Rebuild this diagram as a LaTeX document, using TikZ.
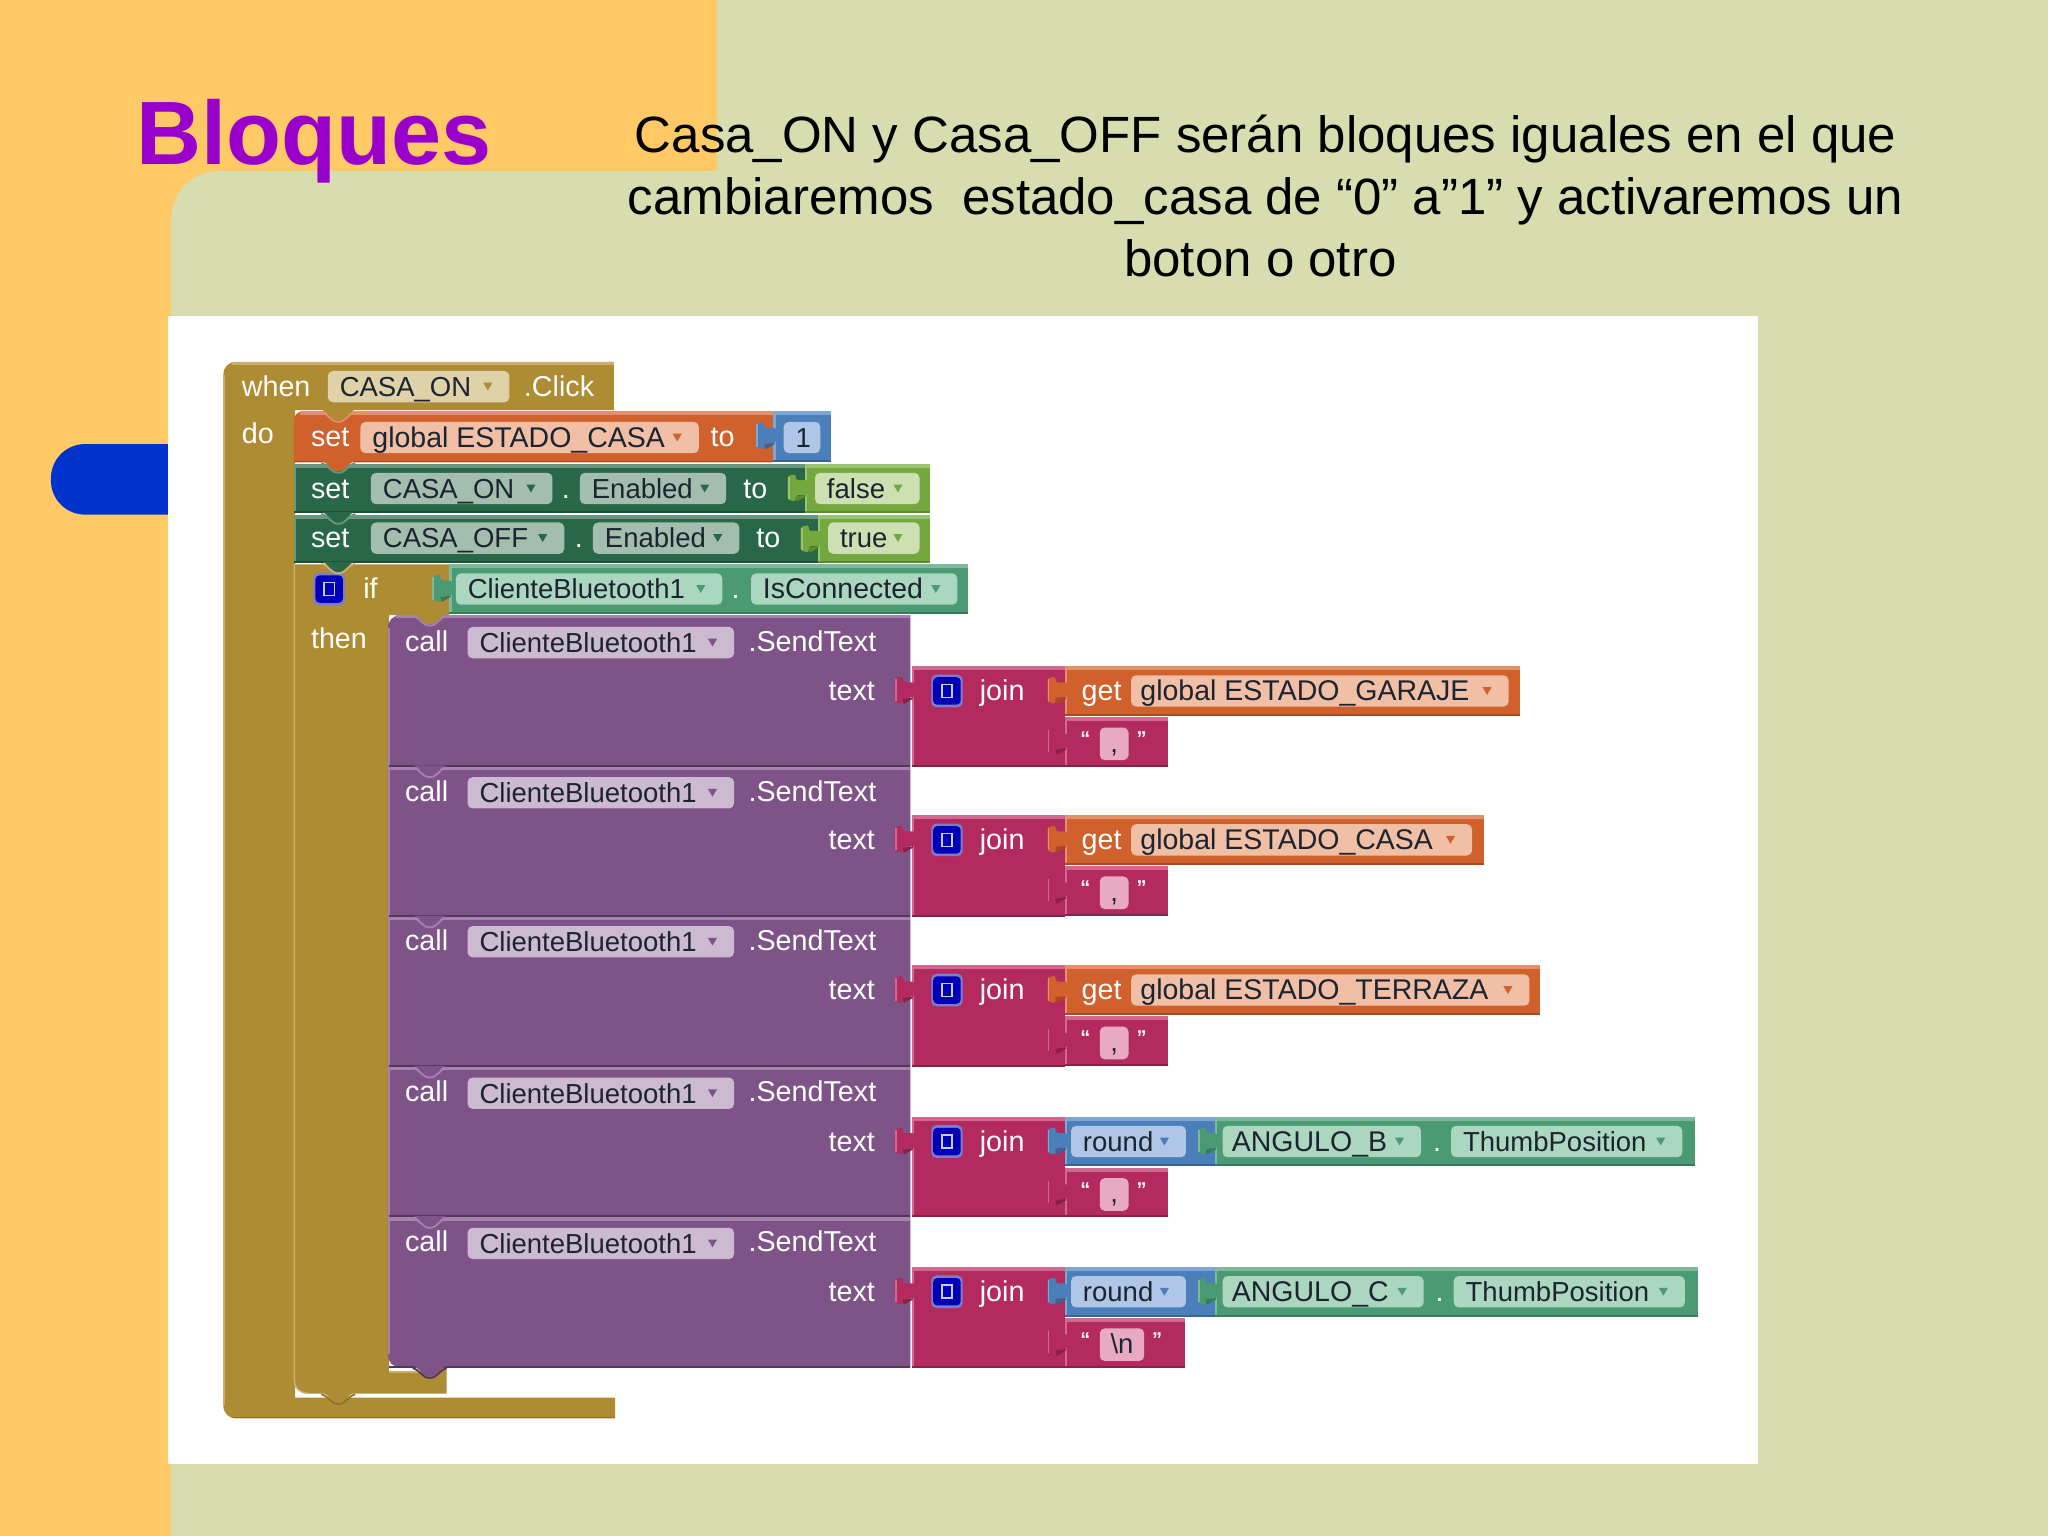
\documentclass[tikz,border=0pt]{standalone}
\usepackage{fontspec}
\setmainfont{Liberation Sans}
\definecolor{bgG}{HTML}{D7DDAE}
\definecolor{bgO}{HTML}{FFC966}
\definecolor{pillblue}{HTML}{0033CC}
\definecolor{titleP}{HTML}{9900CC}
\definecolor{gold}{HTML}{AE8C33}\definecolor{goldL}{HTML}{C9B06E}\definecolor{goldD}{HTML}{8F7229}\definecolor{goldP}{HTML}{E0D2A8}
\definecolor{org}{HTML}{D0602C}\definecolor{orgL}{HTML}{E2916A}\definecolor{orgD}{HTML}{A84A1E}\definecolor{orgP}{HTML}{F0BFA6}
\definecolor{grn}{HTML}{286848}\definecolor{grnL}{HTML}{6A9680}\definecolor{grnD}{HTML}{1C4E35}\definecolor{grnP}{HTML}{A3BDAE}
\definecolor{lime}{HTML}{74A83E}\definecolor{limeL}{HTML}{9CC470}\definecolor{limeD}{HTML}{5C8A2E}\definecolor{limeP}{HTML}{CDE0B2}
\definecolor{teal}{HTML}{4A9A74}\definecolor{tealL}{HTML}{80B89C}\definecolor{tealD}{HTML}{387A5A}\definecolor{tealP}{HTML}{ABD6C0}
\definecolor{pur}{HTML}{7E5387}\definecolor{purL}{HTML}{A683AE}\definecolor{purD}{HTML}{55355E}\definecolor{purP}{HTML}{CCBAD1}
\definecolor{pnk}{HTML}{B32A5E}\definecolor{pnkL}{HTML}{D0688F}\definecolor{pnkD}{HTML}{8A1F47}\definecolor{pnkP}{HTML}{E8AAC2}
\definecolor{blu}{HTML}{4B7FBC}\definecolor{bluL}{HTML}{7FA6D4}\definecolor{bluD}{HTML}{3A6497}\definecolor{bluP}{HTML}{AFC6E6}
\definecolor{ink}{HTML}{1C2430}
\definecolor{mut}{HTML}{0000B8}
\definecolor{mutL}{HTML}{7C7CC8}
\newcount\nodeno
\newcommand{\nextno}{\global\advance\nodeno by 1 }
\newcommand{\wider}{\fontsize{28.5}{30}\selectfont}
\tikzset{
  lbl/.style={inner sep=0pt,anchor=base west,font=\fontsize{27.5}{30}\selectfont},
  whitelbl/.style={lbl,text=white,font=\fontsize{28.7}{30}\selectfont},
  inklbl/.style={lbl,text=ink},
  quotelbl/.style={lbl,text=white,font=\fontsize{20}{22}\selectfont\bfseries},
}
% block: x1 y1 x2 y2 colourname
\newcommand{\blk}[5]{%
  \fill[#5] (#1,#2) rectangle (#3,#4);
  \fill[#5L] (#1,#2) rectangle (#3,#2+3);
  \fill[#5L] (#1,#2) rectangle (#1+2,#4);
  \fill[#5D] (#1,#4-1.5) rectangle (#3,#4);
}
\newcommand{\wt}[3]{\nextno\node[whitelbl] (w\the\nodeno) at (#1,#2+7.5) {#3};}
\newcommand{\wtr}[3]{\nextno\node[whitelbl,anchor=base east] (w\the\nodeno) at (#1,#2+7.5) {#3};}
% pill: x1 x2 yc colourname text arrow-colour
\newcommand{\pill}[6]{%
  \fill[#4P,rounded corners=5pt] (#1,#3-12) rectangle (#2,#3+12);
  \nextno\node[inklbl] (p\the\nodeno) at (#1+9,#3+7.5) {#5};
  \fill[#6] (#2-20,#3-3) -- (#2-13,#3-3) -- (#2-16.5,#3+3) -- cycle;
}
% lower notch tab: xc y fill edge
\newcommand{\notch}[4]{%
  \fill[#3] (#1-12,#2-1) .. controls (#1-7,#2+1) and (#1-6,#2+7) .. (#1,#2+7) .. controls (#1+6,#2+7) and (#1+7,#2+1) .. (#1+12,#2-1) -- cycle;
  \draw[#4,line width=1.8pt] (#1-13,#2+0.5) .. controls (#1-7,#2+2) and (#1-6,#2+8) .. (#1,#2+8) .. controls (#1+6,#2+8) and (#1+7,#2+2) .. (#1+13,#2+0.5);
}
% input plug: x ytop child
\newcommand{\plug}[3]{%
  \fill[#3,rounded corners=1.5pt] (#1+2,#2+12.5) -- (#1-6.5,#2+12.5) -- (#1-7,#2+8) -- (#1-13,#2+9.5) -- (#1-13,#2+27.5) -- (#1-7,#2+29) -- (#1-6.5,#2+24) -- (#1+2,#2+24) -- cycle;
  \fill[#3L] (#1-13,#2+10) rectangle (#1-11.5,#2+27);
  \fill[#3D] (#1-7,#2+25) -- (#1+1,#2+24) -- (#1+1,#2+25) -- (#1-6,#2+29) -- cycle;
}
% mutator icon: x yc
\newcommand{\mutator}[2]{%
  \fill[mutL,rounded corners=5pt] (#1,#2-12.5) rectangle (#1+24,#2+12.5);
  \fill[mut,rounded corners=4pt] (#1+1.5,#2-10.5) rectangle (#1+22.5,#2+10.5);
  \draw[white!80!mut,line width=1.6pt] (#1+8,#2-5) rectangle (#1+16,#2+5);
}
% text block with quotes: x2 ytop pill-right text
\newcommand{\strblk}[4]{%
  \blk{815}{#2}{#1}{#2+38}{pnk}
  \plug{815}{#2}{pnk}
  \fill[pnkP,rounded corners=5pt] (842,#2+8) rectangle (#3,#2+33);
  \nextno\node[inklbl,anchor=base] (q\the\nodeno) at ({(842+#3)/2},#2+27) {#4};
  \nextno\node[quotelbl] (q\the\nodeno) at (827,#2+22) {“};
  \nextno\node[quotelbl] (q\the\nodeno) at (#3+6,#2+22) {”};
}
\begin{document}
\begin{tikzpicture}[x=1.30612pt,y=-1.30612pt]
\useasboundingbox (0,0) rectangle (1568,1176);
% slide background
\fill[bgO] (0,0) rectangle (1568,1176);
\fill[bgG] (549,0) rectangle (1568,140);
\fill[bgG,rounded corners=48pt] (131,1250) -- (131,131) -- (1700,131) -- (1700,1250) -- cycle;
\fill[bgG] (131,1121) rectangle (1568,1176);
\fill[pillblue,rounded corners=34pt] (160,340) -- (39,340) -- (39,394) -- (160,394) -- cycle;
\fill[white] (129,242) rectangle (1346,1121);
\node[inner sep=0pt,anchor=base west,text=titleP,font=\fontsize{90}{95}\selectfont\bfseries] (title) at (104,126) {Bloques};
\node[inner sep=0pt,align=center,font=\fontsize{51}{61.8}\selectfont] (subtitle) at (969,150)
  {Casa\_ON y Casa\_OFF serán bloques iguales en el que\\cambiaremos \ estado\_casa de “0” a”1” y activaremos un\\boton o otro\hbox to 10.5pt{\hfil}};
% event block
\fill[gold] (181,277) -- (470,277) -- (470,314) -- (226,314) -- (226,1070) -- (471,1070) -- (471,1086) -- (181,1086) .. controls (175,1086) and (171,1082) .. (171,1076) -- (171,287) .. controls (171,281) and (175,277) .. (181,277) -- cycle;
\fill[goldL] (178,277) rectangle (470,279.5);
\fill[goldL] (171,287) rectangle (172.5,1076);
\fill[goldD] (178,1084.5) rectangle (471,1086);
\wt{185}{296}{when}
\pill{251}{390}{296}{gold}{CASA\_ON}{gold}
\wt{401}{296}{.Click}
\wt{185}{332}{do}
% if block
\fill[gold] (226,432) -- (344,432) -- (344,471) -- (298,471) -- (298,1050) -- (325,1050) -- (325,1047) -- (342,1047) -- (342,1067) -- (236,1067) .. controls (230,1067) and (225,1063) .. (225,1057) -- cycle;
\draw[goldL,line width=1.6pt] (225.4,432) -- (225.4,1057) .. controls (225.4,1063) and (230,1066.6) .. (236,1066.6);
\fill[goldL] (298,1050) rectangle (320,1051);
\mutator{240}{451}
\wt{278}{451}{if}
\wt{238}{489}{then}
\notch{259}{1067}{gold}{goldD}
% set global
\fill[org] (225,354) -- (225,322) .. controls (225,318) and (228,315) .. (232,315) -- (592,315) -- (592,354) -- cycle;
\fill[orgL] (230,315) rectangle (592,318);
\fill[orgD] (225,352.8) rectangle (592,354);
\notch{259}{315}{gold}{orgL}
\wt{238}{334}{set}
\pill{276}{535}{335}{org}{\wider global ESTADO\_CASA}{org}
\wt{544}{334}{to}
\blk{592}{315}{636}{354}{blu}
\plug{592}{315}{blu}
\fill[bluP,rounded corners=5pt] (600,323) rectangle (628,347);
\node[inklbl] (one) at (609,342.5) {1};
% set enabled false
\blk{225}{355}{616}{393}{grn}
\notch{259}{354}{org}{grnL}
\wt{238}{374}{set}
\pill{284}{423}{374}{grn}{CASA\_ON}{grn}
\wt{430}{374}{.}
\pill{444}{556}{374}{grn}{Enabled}{grn}
\wt{569}{374}{to}
\blk{616}{355}{712}{393}{lime}
\plug{616}{355}{lime}
\pill{624}{704}{374}{lime}{false}{lime}
% set enabled true
\blk{225}{394}{626}{431}{grn}
\notch{259}{393}{grn}{grnL}
\wt{238}{412}{set}
\pill{284}{432}{412}{grn}{CASA\_OFF}{grn}
\wt{440}{412}{.}
\pill{454}{566}{412}{grn}{Enabled}{grn}
\wt{579}{412}{to}
\blk{626}{394}{712}{431}{lime}
\plug{626}{394}{lime}
\pill{634}{704}{412}{lime}{true}{lime}
\notch{259}{431}{grn}{goldL}
% if condition
\blk{344}{432}{741}{470}{teal}
\plug{344}{432}{teal}
\pill{349}{553}{451}{teal}{ClienteBluetooth1}{teal}
\wt{560}{451}{.}
\pill{575}{733}{451}{teal}{\wider IsConnected}{teal}
% call column
\fill[white] (298,1040) rectangle (325,1050);
\fill[pur] (307,471) -- (697,471) -- (697,1047) -- (307,1047) .. controls (301,1047) and (297,1043) .. (297,1037) -- (297,481) .. controls (297,475) and (301,471) .. (307,471) -- cycle;
\fill[purL] (303,471) rectangle (697,473.5);
\fill[purL] (297,481) rectangle (298.5,1037);
\foreach \a/\b/\c/\d in {471/587/491/529,587/702/606/643,702/817/720/758,818/932/836/874,933/1047/951/989}{
  \fill[purD] (298,\b-1.5) rectangle (697,\b);
  \ifnum\b<1000 \fill[purL] (297,\b) rectangle (697,\b+2.5);\fi
  \wt{310}{\c}{call}
  \pill{358}{562}{\c+1}{pur}{ClienteBluetooth1}{pur}
  \wt{573}{\c}{.SendText}
  \wtr{670}{\d}{text}
  \blk{698}{\d-19}{815}{\b}{pnk}
  \plug{698}{\d-19}{pnk}
  \mutator{713}{\d}
  \wt{750}{\d}{join}
}
\notch{329}{471}{gold}{purL}
\foreach \y in {587,702,817,932}{\notch{329}{\y}{pur}{purL}}
\notch{329}{1047}{pur}{purD}
% get blocks
\foreach \t/\x/\p/\s in {510/1164/1155/GARAJE,624/1136/1127/CASA,739/1179/1171/TERRAZA}{
  \blk{815}{\t}{\x}{\t+38}{org}
  \plug{815}{\t}{org}
  \wt{828}{\t+19}{get}
  \pill{866}{\p}{\t+19}{org}{\hspace{-2.6pt}\wider global ESTADO\_\s}{org}
  \strblk{894}{\t+39}{864}{,}
}
% round blocks
\foreach \t/\x/\a/\n/\c/\d/\e in {855/1298/1088/B/1111/1288/1097,970/1300/1090/C/1113/1290/1099}{
  \blk{815}{\t}{930}{\t+38}{blu}
  \plug{815}{\t}{blu}
  \pill{820}{908}{\t+19}{blu}{round}{blu}
  \blk{930}{\t}{\x}{\t+38}{teal}
  \plug{930}{\t}{teal}
  \pill{936}{\a}{\t+19}{teal}{\hspace{-2.6pt}\wider ANGULO\_\n}{teal}
  \wt{\e}{\t+19}{.}
  \pill{\c}{\d}{\t+19}{teal}{ThumbPosition}{teal}
}
\strblk{894}{894}{864}{,}
\strblk{907}{1009}{876}{\textbackslash n}
\end{tikzpicture}
\end{document}
